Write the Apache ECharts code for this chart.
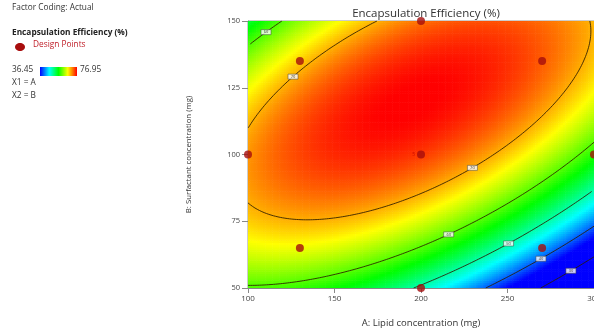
<!DOCTYPE html>
<html><head><meta charset="utf-8">
<script src="https://cdn.jsdelivr.net/npm/echarts@6/dist/echarts.min.js"></script>
<style>html,body{margin:0;padding:0;background:#fff}#c{width:594px;height:333px}</style>
</head><body><div id="c"></div>
<script>
// ---- data ----
const chartTitle = 'Encapsulation Efficiency (%)';
const xAxisName = 'A: Lipid concentration (mg)';
const yAxisName = 'B: Surfactant concentration (mg)';
const xAxisRange = [100, 300];
const yAxisRange = [50, 150];
const xTickStep = 50;
const yTickStep = 25;
// design points (actual factor levels)
const designA = [100, 130, 130, 200, 200, 200, 270, 270, 300];
const designB = [100, 65, 135, 50, 100, 150, 65, 135, 100];
const designReplicates = [1, 1, 1, 1, 5, 1, 1, 1, 1];
// fitted quadratic model (coded factors)
const modelTerms = ['Intercept', 'A', 'B', 'AB', 'A2', 'B2'];
const modelCoef = [74.59, -6.61, 11.70, 13.98, -10.22, -13.75];
const codingCenter = [200, 100];
const codingHalfRange = [100, 50];
const contourLevels = [30, 40, 50, 60, 70];
const colorMin = 36.45, colorMax = 76.95;
const colorStops = ['#0000ff', '#00ffff', '#00ff00', '#ffff00', '#ff0000'];
const legendTexts = ['Factor Coding: Actual', 'Encapsulation Efficiency (%)', 'Design Points', 'X1 = A', 'X2 = B'];
// contour label anchors (level, approx A, approx B)
const labelLevel = [60, 70, 70, 60, 50, 40, 30];
const labelA = [108, 117, 230, 215, 250, 270, 287];
const labelB = [147, 133, 95, 71, 67, 61, 56];

// ---- model evaluation ----
function predict(A, B) {
  const x = (A - codingCenter[0]) / codingHalfRange[0];
  const y = (B - codingCenter[1]) / codingHalfRange[1];
  const t = [1, x, y, x * y, x * x, y * y];
  let s = 0;
  for (let k = 0; k < t.length; k++) s += modelCoef[k] * t[k];
  return s;
}
const nA = 150, nB = 120;
const dA = (xAxisRange[1] - xAxisRange[0]) / nA;
const dB = (yAxisRange[1] - yAxisRange[0]) / nB;
const gridA = [], gridB = [];
for (let i = 0; i <= nA; i++) gridA.push(xAxisRange[0] + i * dA);
for (let j = 0; j <= nB; j++) gridB.push(yAxisRange[0] + j * dB);
const Z = gridB.map(b => gridA.map(a => predict(a, b)));
const heatData = [];
for (let j = 0; j <= nB; j++) for (let i = 0; i <= nA; i++) heatData.push([gridA[i], gridB[j], Z[j][i]]);

// ---- marching squares + chaining ----
function keyOf(p) { return p[0].toFixed(6) + ',' + p[1].toFixed(6); }
function contourPolylines(level) {
  const segs = [];
  for (let i = 0; i < nA; i++) for (let j = 0; j < nB; j++) {
    const c = [[gridA[i], gridB[j]], [gridA[i + 1], gridB[j]], [gridA[i + 1], gridB[j + 1]], [gridA[i], gridB[j + 1]]];
    const v = [Z[j][i], Z[j][i + 1], Z[j + 1][i + 1], Z[j + 1][i]];
    const pts = [];
    for (let e = 0; e < 4; e++) {
      const k = (e + 1) % 4;
      if ((v[e] >= level) !== (v[k] >= level)) {
        let ca = c[e], cb = c[k], va = v[e], vb = v[k];
        if (ca[0] > cb[0] || (ca[0] === cb[0] && ca[1] > cb[1])) { [ca, cb] = [cb, ca]; [va, vb] = [vb, va]; }
        const t = (level - va) / (vb - va);
        pts.push([ca[0] + t * (cb[0] - ca[0]), ca[1] + t * (cb[1] - ca[1])]);
      }
    }
    if (pts.length === 2) segs.push([pts[0], pts[1]]);
    else if (pts.length === 4) { segs.push([pts[0], pts[1]]); segs.push([pts[2], pts[3]]); }
  }
  const map = {};
  segs.forEach((s, idx) => { s.forEach(p => { const k = keyOf(p); (map[k] = map[k] || []).push(idx); }); });
  const used = new Array(segs.length).fill(false);
  const lines = [];
  for (let s0 = 0; s0 < segs.length; s0++) {
    if (used[s0]) continue;
    used[s0] = true;
    const line = [segs[s0][0], segs[s0][1]];
    for (let dir = 0; dir < 2; dir++) {
      while (true) {
        const end = dir === 0 ? line[line.length - 1] : line[0];
        const cand = (map[keyOf(end)] || []).find(ix => !used[ix]);
        if (cand === undefined) break;
        used[cand] = true;
        const s = segs[cand];
        const other = keyOf(s[0]) === keyOf(end) ? s[1] : s[0];
        if (dir === 0) line.push(other); else line.unshift(other);
      }
    }
    lines.push(line);
  }
  return lines;
}
const contourSeries = [];
const contourByLevel = {};
contourLevels.forEach(L => {
  const polys = contourPolylines(L);
  contourByLevel[L] = polys;
  polys.forEach(poly => {
    contourSeries.push({
      type: 'line', data: poly, showSymbol: false, symbol: 'none', silent: true,
      lineStyle: { color: 'rgba(45,28,0,0.85)', width: 1 }, z: 3, animation: false, clip: true
    });
  });
});
// label positions snapped to nearest contour point
const labelData = labelLevel.map((L, n) => {
  let best = null, bd = Infinity;
  (contourByLevel[L] || []).forEach(poly => poly.forEach(p => {
    const dx = (p[0] - labelA[n]) / 200, dy = (p[1] - labelB[n]) / 100;
    const d = dx * dx + dy * dy;
    if (d < bd) { bd = d; best = p; }
  }));
  return best ? [best[0], best[1], L] : [labelA[n], labelB[n], L];
});

const designData = designA.map((a, k) => {
  const item = { value: [a, designB[k]] };
  if (designReplicates[k] > 1) item.label = { show: true, position: 'left', distance: 2, formatter: String(designReplicates[k]), fontSize: 5, color: '#c00000' };
  return item;
});

const font = "'Open Sans', 'Noto Sans', sans-serif";
const chart = echarts.init(document.getElementById('c'), null, { renderer: 'canvas' });
chart.setOption({
  animation: false,
  textStyle: { fontFamily: font },
  title: { text: chartTitle, left: 421, top: 3, textAlign: 'center',
    textStyle: { fontSize: 11.5, fontWeight: 'normal', color: '#333', fontFamily: font } },
  grid: { left: 248, top: 21, right: 0, bottom: 45, show: true, borderColor: '#999', borderWidth: 1,
    backgroundColor: 'transparent', containLabel: false, outerBoundsMode: 'none' },
  xAxis: {
    type: 'value', min: xAxisRange[0], max: xAxisRange[1], interval: xTickStep,
    name: xAxisName, nameLocation: 'middle', nameGap: 30,
    nameTextStyle: { fontSize: 9.5, color: '#333', fontFamily: font },
    axisLine: { show: true, lineStyle: { color: '#888' } },
    axisTick: { show: true, length: 5, lineStyle: { color: '#888' } },
    axisLabel: { fontSize: 8, color: '#444', margin: 7, fontFamily: font },
    splitLine: { show: false }
  },
  yAxis: {
    type: 'value', min: yAxisRange[0], max: yAxisRange[1], interval: yTickStep,
    name: yAxisName, nameLocation: 'middle', nameGap: 55,
    nameTextStyle: { fontSize: 7.8, color: '#333', fontFamily: font },
    axisLine: { show: true, lineStyle: { color: '#888' } },
    axisTick: { show: true, length: 6, lineStyle: { color: '#888' } },
    axisLabel: { fontSize: 7.5, color: '#444', margin: 8, fontFamily: font },
    splitLine: { show: false }
  },
  visualMap: {
    type: 'continuous', show: false, seriesIndex: 0, dimension: 2, min: colorMin, max: colorMax,
    inRange: { color: colorStops }
  },
  graphic: [
    { type: 'text', left: 12, top: 4, style: { text: legendTexts[0], fontSize: 8.3, fill: '#333', fontFamily: font } },
    { type: 'text', left: 12, top: 29, style: { text: legendTexts[1], fontSize: 8.3, fontWeight: 'bold', fill: '#222', fontFamily: font } },
    { type: 'ellipse', shape: { cx: 20, cy: 47, rx: 5, ry: 4 }, style: { fill: '#a80d0d' } },
    { type: 'text', left: 33, top: 41, style: { text: legendTexts[2], fontSize: 8.3, fill: '#c0202a', fontFamily: font } },
    { type: 'text', left: 12, top: 66, style: { text: String(colorMin), fontSize: 8.3, fill: '#333', fontFamily: font } },
    { type: 'rect', shape: { x: 40, y: 67, width: 37, height: 9 },
      style: { fill: new echarts.graphic.LinearGradient(0, 0, 1, 0, colorStops.map((c, k) => ({ offset: k / (colorStops.length - 1), color: c }))) } },
    { type: 'text', left: 80, top: 66, style: { text: String(colorMax), fontSize: 8.3, fill: '#333', fontFamily: font } },
    { type: 'text', left: 12, top: 79, style: { text: legendTexts[3], fontSize: 8.3, fill: '#333', fontFamily: font } },
    { type: 'text', left: 12, top: 92, style: { text: legendTexts[4], fontSize: 8.3, fill: '#333', fontFamily: font } }
  ],
  series: [
    {
      type: 'custom', data: heatData, silent: true, z: 1, animation: false,
      encode: { x: 0, y: 1 },
      renderItem: function (params, api) {
        const a = api.value(0), b = api.value(1);
        const p0 = api.coord([a - dA / 2, b + dB / 2]);
        const p1 = api.coord([a + dA / 2, b - dB / 2]);
        const cs = params.coordSys;
        const shape = echarts.graphic.clipRectByRect(
          { x: p0[0], y: p0[1], width: p1[0] - p0[0] + 0.6, height: p1[1] - p0[1] + 0.6 },
          { x: cs.x, y: cs.y, width: cs.width, height: cs.height });
        if (!shape) return;
        return { type: 'rect', shape: shape, style: { fill: api.visual('color') } };
      }
    },
    ...contourSeries,
    {
      type: 'scatter', data: labelData, symbol: 'rect', symbolSize: [10, 5], z: 4, silent: true,
      itemStyle: { color: '#fff', borderColor: '#444', borderWidth: 0.6 },
      label: { show: true, position: 'inside', formatter: p => p.value[2], fontSize: 4, color: '#222' }
    },
    {
      type: 'scatter', data: designData, symbol: 'circle', symbolSize: 8, z: 5, clip: false, silent: true,
      itemStyle: { color: '#a50d0d' }
    }
  ]
});
</script></body></html>
